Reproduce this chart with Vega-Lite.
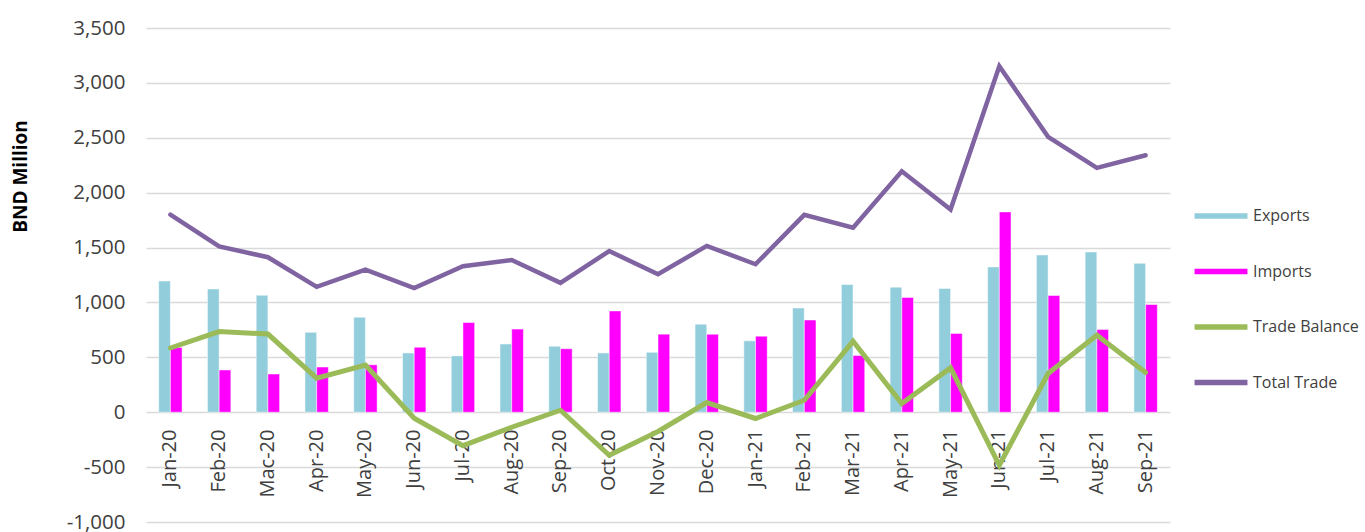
{
  "$schema": "https://vega.github.io/schema/vega-lite/v6.json",
  "width": 1024,
  "height": 494,
  "autosize": {"type": "none"},
  "padding": {"left": 146, "top": 28, "right": 195, "bottom": 10},
  "background": "white",
  "config": {
    "view": {"stroke": null},
    "font": "Open Sans",
    "axis": {"labelColor": "#404040", "titleColor": "#000000"},
    "legend": {"labelColor": "#404040"}
  },
  "data": {
    "values": [
      {"month": "Jan-20", "series": "Exports", "value": 1195}, {"month": "Jan-20", "series": "Imports", "value": 590}, {"month": "Jan-20", "series": "Trade Balance", "value": 585}, {"month": "Jan-20", "series": "Total Trade", "value": 1800},
      {"month": "Feb-20", "series": "Exports", "value": 1123}, {"month": "Feb-20", "series": "Imports", "value": 385}, {"month": "Feb-20", "series": "Trade Balance", "value": 735}, {"month": "Feb-20", "series": "Total Trade", "value": 1510},
      {"month": "Mac-20", "series": "Exports", "value": 1066}, {"month": "Mac-20", "series": "Imports", "value": 348}, {"month": "Mac-20", "series": "Trade Balance", "value": 712}, {"month": "Mac-20", "series": "Total Trade", "value": 1412},
      {"month": "Apr-20", "series": "Exports", "value": 728}, {"month": "Apr-20", "series": "Imports", "value": 412}, {"month": "Apr-20", "series": "Trade Balance", "value": 310}, {"month": "Apr-20", "series": "Total Trade", "value": 1142},
      {"month": "May-20", "series": "Exports", "value": 865}, {"month": "May-20", "series": "Imports", "value": 432}, {"month": "May-20", "series": "Trade Balance", "value": 430}, {"month": "May-20", "series": "Total Trade", "value": 1298},
      {"month": "Jun-20", "series": "Exports", "value": 540}, {"month": "Jun-20", "series": "Imports", "value": 592}, {"month": "Jun-20", "series": "Trade Balance", "value": -55}, {"month": "Jun-20", "series": "Total Trade", "value": 1130},
      {"month": "Jul-20", "series": "Exports", "value": 513}, {"month": "Jul-20", "series": "Imports", "value": 817}, {"month": "Jul-20", "series": "Trade Balance", "value": -305}, {"month": "Jul-20", "series": "Total Trade", "value": 1330},
      {"month": "Aug-20", "series": "Exports", "value": 622}, {"month": "Aug-20", "series": "Imports", "value": 757}, {"month": "Aug-20", "series": "Trade Balance", "value": -137}, {"month": "Aug-20", "series": "Total Trade", "value": 1387},
      {"month": "Sep-20", "series": "Exports", "value": 601}, {"month": "Sep-20", "series": "Imports", "value": 578}, {"month": "Sep-20", "series": "Trade Balance", "value": 18}, {"month": "Sep-20", "series": "Total Trade", "value": 1178},
      {"month": "Oct-20", "series": "Exports", "value": 540}, {"month": "Oct-20", "series": "Imports", "value": 923}, {"month": "Oct-20", "series": "Trade Balance", "value": -392}, {"month": "Oct-20", "series": "Total Trade", "value": 1468},
      {"month": "Nov-20", "series": "Exports", "value": 546}, {"month": "Nov-20", "series": "Imports", "value": 711}, {"month": "Nov-20", "series": "Trade Balance", "value": -175}, {"month": "Nov-20", "series": "Total Trade", "value": 1257},
      {"month": "Dec-20", "series": "Exports", "value": 802}, {"month": "Dec-20", "series": "Imports", "value": 711}, {"month": "Dec-20", "series": "Trade Balance", "value": 88}, {"month": "Dec-20", "series": "Total Trade", "value": 1515},
      {"month": "Jan-21", "series": "Exports", "value": 650}, {"month": "Jan-21", "series": "Imports", "value": 693}, {"month": "Jan-21", "series": "Trade Balance", "value": -57}, {"month": "Jan-21", "series": "Total Trade", "value": 1348},
      {"month": "Feb-21", "series": "Exports", "value": 950}, {"month": "Feb-21", "series": "Imports", "value": 840}, {"month": "Feb-21", "series": "Trade Balance", "value": 109}, {"month": "Feb-21", "series": "Total Trade", "value": 1798},
      {"month": "Mar-21", "series": "Exports", "value": 1163}, {"month": "Mar-21", "series": "Imports", "value": 517}, {"month": "Mar-21", "series": "Trade Balance", "value": 646}, {"month": "Mar-21", "series": "Total Trade", "value": 1680},
      {"month": "Apr-21", "series": "Exports", "value": 1139}, {"month": "Apr-21", "series": "Imports", "value": 1046}, {"month": "Apr-21", "series": "Trade Balance", "value": 80}, {"month": "Apr-21", "series": "Total Trade", "value": 2195},
      {"month": "May-21", "series": "Exports", "value": 1128}, {"month": "May-21", "series": "Imports", "value": 718}, {"month": "May-21", "series": "Trade Balance", "value": 404}, {"month": "May-21", "series": "Total Trade", "value": 1847},
      {"month": "Jun-21", "series": "Exports", "value": 1324}, {"month": "Jun-21", "series": "Imports", "value": 1825}, {"month": "Jun-21", "series": "Trade Balance", "value": -483}, {"month": "Jun-21", "series": "Total Trade", "value": 3152},
      {"month": "Jul-21", "series": "Exports", "value": 1432}, {"month": "Jul-21", "series": "Imports", "value": 1064}, {"month": "Jul-21", "series": "Trade Balance", "value": 353}, {"month": "Jul-21", "series": "Total Trade", "value": 2508},
      {"month": "Aug-21", "series": "Exports", "value": 1460}, {"month": "Aug-21", "series": "Imports", "value": 754}, {"month": "Aug-21", "series": "Trade Balance", "value": 701}, {"month": "Aug-21", "series": "Total Trade", "value": 2226},
      {"month": "Sep-21", "series": "Exports", "value": 1356}, {"month": "Sep-21", "series": "Imports", "value": 981}, {"month": "Sep-21", "series": "Trade Balance", "value": 362}, {"month": "Sep-21", "series": "Total Trade", "value": 2341}
    ]
  },
  "encoding": {
    "x": {
      "field": "month", "type": "nominal", "sort": null,
      "scale": {"paddingInner": 0.52, "paddingOuter": 0.26},
      "axis": {
        "title": null, "labelAngle": -90, "labelFontSize": 20, "labelPadding": 17,
        "domain": false, "ticks": false, "grid": false, "offset": -110,
        "labelAlign": "right", "labelBaseline": "middle"
      }
    },
    "y": {
      "field": "value", "type": "quantitative",
      "scale": {"domain": [-1000, 3500], "nice": false, "zero": false},
      "axis": {
        "title": "BND Million", "values": [-1000, -500, 0, 500, 1000, 1500, 2000, 2500, 3000, 3500],
        "labelExpr": "datum.value < 0 ? '-' + format(-datum.value, ',.0f') : format(datum.value, ',.0f')",
        "labelFontSize": 20.5, "labelPadding": 21,
        "domain": false, "ticks": false, "gridColor": "#d9d9d9", "gridWidth": 1.5,
        "titleFontSize": 19, "titleFontWeight": "bold", "titleAngle": -90,
        "titleX": -126, "titleY": 148, "titleAlign": "center", "titleBaseline": "middle"
      }
    }
  },
  "layer": [
    {
      "transform": [{"filter": "datum.series === 'Exports' || datum.series === 'Imports'"}],
      "mark": {"type": "bar", "stroke": "white", "strokeWidth": 0.5},
      "encoding": {
        "xOffset": {"field": "series", "type": "nominal", "scale": {"domain": ["Exports", "Imports"], "paddingInner": 0, "paddingOuter": 0}},
        "color": {
          "field": "series", "type": "nominal",
          "scale": {"domain": ["Exports", "Imports", "Trade Balance", "Total Trade"], "range": ["#92CDDC", "#FF00FF", "#9BBB59", "#8064A2"]},
          "legend": {
            "title": null, "orient": "none", "legendX": 1067, "legendY": 180,
            "symbolType": "M-5,-0.5H5V0.5H-5Z", "symbolSize": 112, "symbolStrokeWidth": 0,
            "labelFontSize": 16, "labelOffset": 24, "rowPadding": 39.5
          }
        }
      }
    },
    {
      "transform": [{"filter": "datum.series === 'Trade Balance'"}],
      "mark": {"type": "line", "strokeWidth": 5, "strokeJoin": "miter", "strokeCap": "round"},
      "encoding": {"color": {"field": "series", "type": "nominal", "legend": null}}
    },
    {
      "transform": [{"filter": "datum.series === 'Total Trade'"}],
      "mark": {"type": "line", "strokeWidth": 4.5, "strokeJoin": "miter", "strokeCap": "round"},
      "encoding": {"color": {"field": "series", "type": "nominal", "legend": null}}
    }
  ]
}
